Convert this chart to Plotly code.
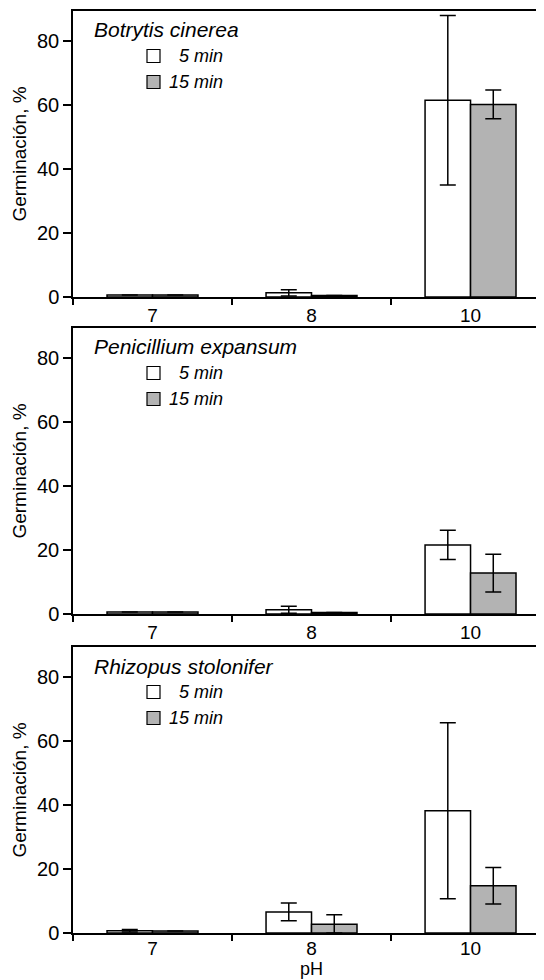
import plotly.graph_objects as go

# ---------------- data ----------------
categories = ["7", "8", "10"]
panel_titles = ["Botrytis cinerea", "Penicillium expansum", "Rhizopus stolonifer"]
series_names = ["5 min", "15 min"]

botrytis_5 = [0.6, 1.3, 61.5]
botrytis_5_err = [None, 1.0, 26.5]
botrytis_15 = [0.6, 0.5, 60.2]
botrytis_15_err = [None, None, 4.5]

penicillium_5 = [0.6, 1.3, 21.6]
penicillium_5_err = [None, 1.1, 4.6]
penicillium_15 = [0.6, 0.5, 12.8]
penicillium_15_err = [None, None, 5.9]

rhizopus_5 = [0.7, 6.6, 38.2]
rhizopus_5_err = [0.4, 2.8, 27.5]
rhizopus_15 = [0.6, 2.7, 14.8]
rhizopus_15_err_plus = [None, 3.0, 5.7]
rhizopus_15_err_minus = [None, 2.7, 5.7]

y_ticks = [0, 20, 40, 60, 80]
x_title = "pH"
y_title = "Germinación, %"

# ---------------- layout constants ----------------
OFF = 8  # page body margin
W, H = 544 - OFF, 980 - OFF
ML, MR, MT, MB = 73 - OFF, 0, 11 - OFF, 980 - 933
PLOT_H = H - MT - MB
FONT = "Liberation Sans, Arial, sans-serif"
FILL = ["white", "#b3b3b3"]

# panel pixel extents in page coords (top, bottom)
panels_px = [(11, 297), (328, 614), (647, 933)]


def py2paper(py):
    # page pixel y -> paper coordinate
    return (H - MB - (py - OFF)) / PLOT_H


def px2paper(px):
    return ((px - OFF) - ML) / (W - ML - MR)


fig = go.Figure()

panel_data = [
    (botrytis_5, botrytis_5_err, botrytis_5_err, botrytis_15, botrytis_15_err, botrytis_15_err),
    (penicillium_5, penicillium_5_err, penicillium_5_err, penicillium_15, penicillium_15_err, penicillium_15_err),
    (rhizopus_5, rhizopus_5_err, rhizopus_5_err, rhizopus_15, rhizopus_15_err_plus, rhizopus_15_err_minus),
]

for i, (v5, e5p, e5m, v15, e15p, e15m) in enumerate(panel_data):
    ax = "" if i == 0 else str(i + 1)
    for j, (vals, ep, em) in enumerate([(v5, e5p, e5m), (v15, e15p, e15m)]):
        fig.add_trace(go.Bar(
            x=categories, y=vals,
            name=series_names[j],
            xaxis="x" + ax, yaxis="y" + ax,
            marker=dict(color=FILL[j], line=dict(color="black", width=1.5)),
            error_y=dict(type="data", array=ep, arrayminus=em, symmetric=False,
                         color="black", thickness=1.5, width=8, visible=True),
            showlegend=False,
        ))

layout = dict(
    width=W, height=H,
    margin=dict(l=ML, r=MR, t=MT, b=MB, pad=0),
    paper_bgcolor="white", plot_bgcolor="white",
    barmode="group", bargap=0.428, bargroupgap=0,
    font=dict(family=FONT, size=19, color="black"),
    showlegend=False,
)

annotations = []
shapes = []
for i, (top, bot) in enumerate(panels_px):
    ax = "" if i == 0 else str(i + 1)
    xkey = "xaxis" + ax
    ykey = "yaxis" + ax
    layout[xkey] = dict(
        domain=[0, 1], anchor="y" + ax, type="category",
        range=[-0.5, 2.462],
        showline=True, linecolor="black", linewidth=1.5, mirror=True,
        ticks="outside", tickson="boundaries", ticklen=6, tickwidth=1.5, tickcolor="black",
        showgrid=False, zeroline=False,
        tickfont=dict(family=FONT, size=19, color="black"),
    )
    if i == 2:
        layout[xkey]["ticklabelstandoff"] = -3
    layout[ykey] = dict(
        domain=[py2paper(bot), py2paper(top)], anchor="x" + ax,
        range=[0, 89.4],
        tickvals=y_ticks,
        showline=True, linecolor="black", linewidth=1.5, mirror=False,
        ticks="outside", ticklen=8, tickwidth=1.5, tickcolor="black",
        showgrid=False, zeroline=False,
        tickfont=dict(family=FONT, size=20, color="black"),
        title=dict(text=y_title, standoff=5, font=dict(family=FONT, size=19, color="black")),
    )

    # panel title
    annotations.append(dict(
        x=px2paper(92), y=py2paper(top + 19), xref="paper", yref="paper",
        xanchor="left", yanchor="middle", showarrow=False,
        text="<i>" + panel_titles[i] + "</i>",
        font=dict(family=FONT, size=21, color="black"),
    ))
    # legend entries
    for j, name in enumerate(series_names):
        cy = top + 45 + 26 * j
        shapes.append(dict(
            type="rect", xref="paper", yref="paper",
            x0=px2paper(147), x1=px2paper(160),
            y0=py2paper(cy - 6.5), y1=py2paper(cy + 6.5),
            fillcolor=FILL[j], line=dict(color="black", width=1.2),
        ))
        annotations.append(dict(
            x=px2paper(225), y=py2paper(cy), xref="paper", yref="paper",
            xanchor="right", yanchor="middle", showarrow=False,
            text="<i>" + name + "</i>",
            font=dict(family=FONT, size=18, color="black"),
        ))

# x axis title (pH) below bottom panel
annotations.append(dict(
    x=1, y=py2paper(981), xref="x3", yref="paper",
    xanchor="center", yanchor="bottom", showarrow=False,
    text=x_title, font=dict(family=FONT, size=18, color="black"),
))

layout["annotations"] = annotations
layout["shapes"] = shapes
fig.update_layout(**layout)

fig.write_html("out.html")
